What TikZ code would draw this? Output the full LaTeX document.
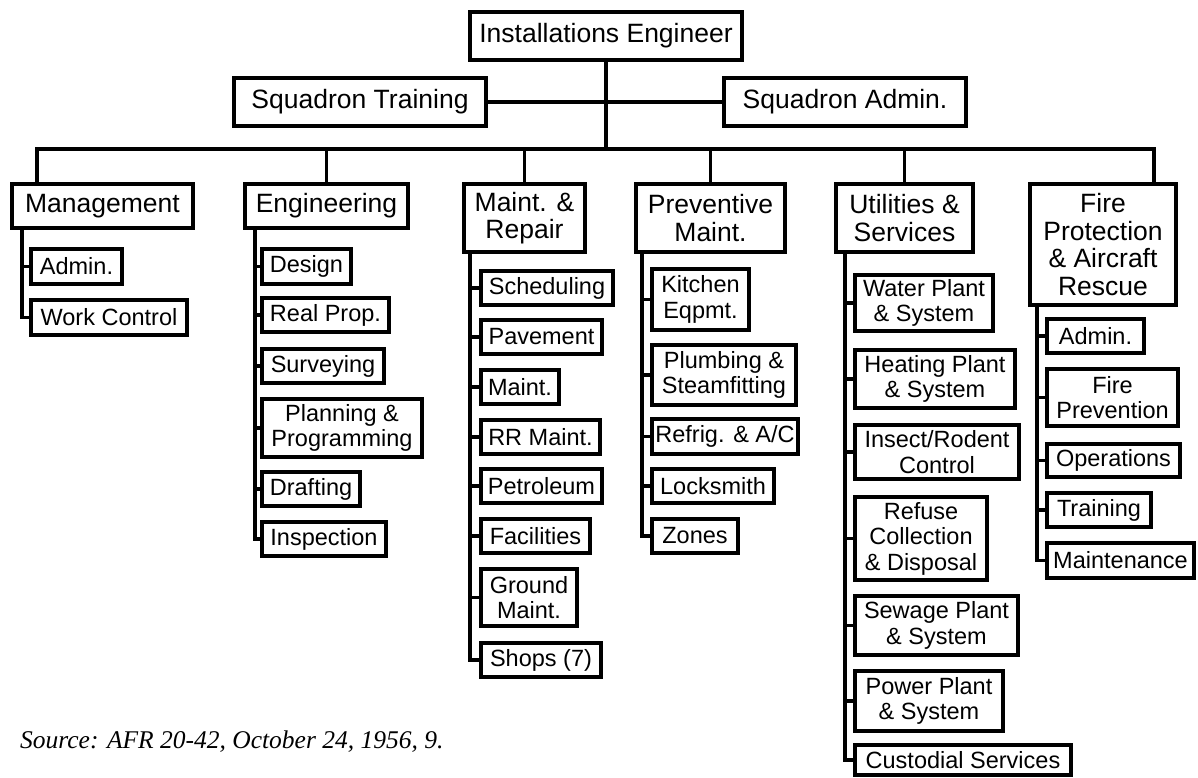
\documentclass[tikz,border=0pt]{standalone}
\usepackage{fontspec}
\setmainfont{Liberation Sans}
\newfontfamily\srcfont{Liberation Serif}
\tikzset{
  ob/.style={draw, line width=3.8pt, inner sep=0pt, align=center, fill=white},
  dept/.style={ob, font=\fontsize{26.5}{27.5}\selectfont},
  sub/.style={ob, font=\fontsize{23.5}{25.5}\selectfont},
  wire/.style={line width=3.8pt},
}
\newcommand{\obox}[7]{\node[#6, minimum width={#4pt-#2pt-3.8pt}, minimum height={#5pt-#3pt-3.8pt}] (#1) at ({(#2+#4)/2},{(#3+#5)/2}) {#7};}
\begin{document}
\begin{tikzpicture}[x=1pt, y=-1pt]
\path[use as bounding box, fill=white] (0,0) rectangle (1198,777);
% top
\obox{ie}{468}{10}{744}{62}{dept}{Installations Engineer}
\obox{st}{232}{76}{488}{128}{dept}{Squadron Training}
\obox{sa}{722}{76}{968}{128}{dept}{Squadron Admin.}
% departments
\obox{mgmt}{10}{182}{195}{230}{dept}{Management}
\obox{eng}{243}{182}{410}{230}{dept}{Engineering}
\obox{mr}{462}{182}{587}{254}{dept}{Maint. \&\\Repair}
\obox{pm}{634}{182}{787}{254}{dept}{Preventive\\Maint.}
\obox{us}{834}{182}{975}{254}{dept}{Utilities \&\\Services}
\obox{fp}{1028}{182}{1178}{307}{dept}{Fire\\Protection\\\& Aircraft\\Rescue}
% management
\obox{madm}{29}{247}{124}{286}{sub}{Admin.}
\obox{mwc}{29}{298}{189}{337}{sub}{Work Control}
% engineering
\obox{edes}{260}{247}{353}{286}{sub}{Design}
\obox{erp}{260}{296}{391}{334}{sub}{Real Prop.}
\obox{esur}{260}{347}{386}{385}{sub}{Surveying}
\obox{epla}{260}{397}{424}{459}{sub}{Planning \&\\Programming}
\obox{edra}{260}{470}{362}{508}{sub}{Drafting}
\obox{eins}{260}{520}{388}{558}{sub}{Inspection}
% maint & repair
\obox{rsch}{479}{269}{615}{307}{sub}{Scheduling}
\obox{rpav}{479}{318}{604}{356}{sub}{Pavement}
\obox{rmai}{479}{368}{561}{406}{sub}{Maint.}
\obox{rrr}{479}{418}{602}{456}{sub}{RR Maint.}
\obox{rpet}{479}{467}{604}{505}{sub}{Petroleum}
\obox{rfac}{479}{517}{592}{555}{sub}{Facilities}
\obox{rgro}{479}{567}{579}{628}{sub}{Ground\\Maint.}
\obox{rsho}{479}{641}{603}{679}{sub}{Shops (7)}
% preventive maint
\obox{pkit}{650}{267}{751}{332}{sub}{Kitchen\\Eqpmt.}
\obox{pplu}{650}{343}{798}{407}{sub}{Plumbing \&\\Steamfitting}
\obox{pref}{650}{417}{800}{456}{sub}{Refrig. \& A/C}
\obox{ploc}{650}{467}{776}{505}{sub}{Locksmith}
\obox{pzon}{650}{517}{740}{555}{sub}{Zones}
% utilities
\obox{uwat}{853}{273}{995}{333}{sub}{Water Plant\\\& System}
\obox{uhea}{853}{348}{1017}{410}{sub}{Heating Plant\\\& System}
\obox{uins}{853}{423}{1021}{481}{sub}{Insect/Rodent\\Control}
\obox{uref}{853}{495}{989}{582}{sub}{Refuse\\Collection\\\& Disposal}
\obox{usew}{853}{594}{1020}{657}{sub}{Sewage Plant\\\& System}
\obox{upow}{853}{669}{1005}{733}{sub}{Power Plant\\\& System}
\obox{ucus}{853}{743}{1073}{777}{sub}{Custodial Services}
% fire
\obox{fadm}{1045}{317}{1146}{355}{sub}{Admin.}
\obox{fpre}{1045}{367}{1180}{428}{sub}{Fire\\Prevention}
\obox{fope}{1045}{442}{1182}{479}{sub}{Operations}
\obox{ftra}{1045}{491}{1153}{529}{sub}{Training}
\obox{fmai}{1045}{541}{1196}{580}{sub}{Maintenance}
% source
\node[anchor=base west, font=\fontsize{25.5}{28}\selectfont\srcfont\itshape, inner sep=0pt] (src) at (20,748) {Source: AFR 20-42, October 24, 1956, 9.};
% connectors top
\coordinate (busL) at (37,149);
\coordinate (busR) at (1154,149);
\draw[wire] (ie.south) -- (ie.south |- busL);
\draw[wire] (st.east) -- (sa.west);
\draw[wire] (mgmt.north -| busL) -- (busL) -- (busR) -- (fp.north -| busR);
\foreach \d in {eng,mr,pm,us} \draw[wire] (\d.north) -- (\d.north |- busL);
% spines
\coordinate (mx) at (22,0);
\coordinate (ex) at (255,0);
\coordinate (rx) at (470,0);
\coordinate (px) at (642,0);
\coordinate (ux) at (845,0);
\coordinate (fx) at (1037,0);
\draw[wire] (mgmt.south -| mx) |- (mwc.west);
\draw[wire] (madm.west) -- (madm.west -| mx);
\draw[wire] (eng.south -| ex) |- (eins.west);
\foreach \s in {edes,erp,esur,epla,edra} \draw[wire] (\s.west) -- (\s.west -| ex);
\draw[wire] (mr.south -| rx) |- (rsho.west);
\foreach \s in {rsch,rpav,rmai,rrr,rpet,rfac,rgro} \draw[wire] (\s.west) -- (\s.west -| rx);
\draw[wire] (pm.south -| px) |- (pzon.west);
\foreach \s in {pkit,pplu,pref,ploc} \draw[wire] (\s.west) -- (\s.west -| px);
\draw[wire] (us.south -| ux) |- (ucus.west);
\foreach \s in {uwat,uhea,uins,uref,usew,upow} \draw[wire] (\s.west) -- (\s.west -| ux);
\draw[wire] (fp.south -| fx) |- (fmai.west);
\foreach \s in {fadm,fpre,fope,ftra} \draw[wire] (\s.west) -- (\s.west -| fx);
\end{tikzpicture}
\end{document}
